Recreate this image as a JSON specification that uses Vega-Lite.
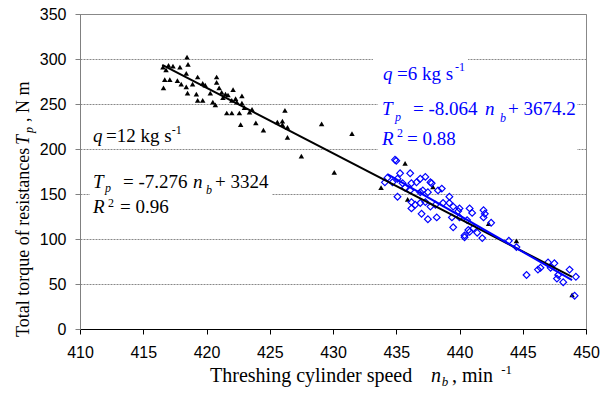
{
  "$schema": "https://vega.github.io/schema/vega-lite/v6.json",
  "width": 506,
  "height": 315,
  "autosize": "none",
  "padding": {"left": 80, "top": 14, "right": 15, "bottom": 65},
  "background": "white",
  "config": {
    "view": {"stroke": "#888888", "strokeWidth": 1},
    "axisX": {"grid": false, "domainColor": "#000000", "tickColor": "#000000", "tickSize": 5, "labelFont": "Liberation Sans", "labelFontSize": 16, "labelColor": "#000000", "labelPadding": 10, "labelFlush": false, "labelOverlap": false, "title": null},
    "axisY": {"grid": true, "gridColor": "#888888", "gridDash": [2, 1], "domainColor": "#808080", "tickColor": "#808080", "tickSize": 5, "labelFont": "Liberation Sans", "labelFontSize": 16, "labelColor": "#000000", "labelPadding": 9, "labelFlush": false, "labelOverlap": false, "title": null}
  },
  "datasets": {
    "boxes": [
      {"n1": 410.79, "n2": 425.18, "T1": 118.9, "T2": 185.6},
      {"n1": 433.56, "n2": 449.29, "T1": 193.3, "T2": 263.3},
      {"n1": 433.16, "n2": 440.67, "T1": 265.6, "T2": 304.4}
    ],
    "tri": [
      {"n": 416.56, "T": 291}, {"n": 416.8, "T": 288}, {"n": 417.0, "T": 293}, {"n": 417.35, "T": 292}, {"n": 417.9, "T": 291},
      {"n": 418.46, "T": 302}, {"n": 418.54, "T": 294}, {"n": 416.7, "T": 277}, {"n": 416.6, "T": 268}, {"n": 417.1, "T": 277},
      {"n": 417.7, "T": 276}, {"n": 418.0, "T": 272}, {"n": 418.4, "T": 269}, {"n": 418.4, "T": 284}, {"n": 418.5, "T": 262},
      {"n": 418.9, "T": 272}, {"n": 419.3, "T": 280}, {"n": 419.2, "T": 261}, {"n": 419.3, "T": 254}, {"n": 419.7, "T": 254},
      {"n": 419.7, "T": 273}, {"n": 419.9, "T": 271}, {"n": 420.3, "T": 262}, {"n": 420.5, "T": 252}, {"n": 420.7, "T": 249},
      {"n": 420.8, "T": 280}, {"n": 420.8, "T": 274}, {"n": 421.0, "T": 268}, {"n": 421.2, "T": 263}, {"n": 421.3, "T": 257},
      {"n": 421.5, "T": 261}, {"n": 421.7, "T": 260}, {"n": 422.1, "T": 266}, {"n": 422.0, "T": 254}, {"n": 422.3, "T": 256},
      {"n": 422.4, "T": 252}, {"n": 422.8, "T": 251}, {"n": 422.8, "T": 259}, {"n": 423.0, "T": 246}, {"n": 423.4, "T": 241},
      {"n": 423.6, "T": 244}, {"n": 421.6, "T": 240}, {"n": 422.0, "T": 240}, {"n": 422.6, "T": 240}, {"n": 422.7, "T": 227},
      {"n": 423.9, "T": 229}, {"n": 424.5, "T": 221}, {"n": 425.6, "T": 230}, {"n": 426.0, "T": 231}, {"n": 426.0, "T": 227},
      {"n": 426.4, "T": 224}, {"n": 426.2, "T": 243}, {"n": 426.4, "T": 213}, {"n": 427.5, "T": 192}, {"n": 429.1, "T": 228},
      {"n": 430.1, "T": 174}, {"n": 431.5, "T": 217}, {"n": 433.8, "T": 157}, {"n": 435.7, "T": 184}, {"n": 435.9, "T": 144},
      {"n": 437.9, "T": 158}, {"n": 442.3, "T": 117}, {"n": 444.5, "T": 98}, {"n": 448.9, "T": 38}
    ],
    "dia": [
      {"n": 435.0, "T": 187}, {"n": 435.3, "T": 173}, {"n": 436.1, "T": 173}, {"n": 434.7, "T": 163}, {"n": 435.1, "T": 167},
      {"n": 435.5, "T": 162}, {"n": 436.2, "T": 162}, {"n": 436.6, "T": 163}, {"n": 436.9, "T": 167}, {"n": 437.3, "T": 169},
      {"n": 437.7, "T": 163}, {"n": 437.8, "T": 162}, {"n": 438.3, "T": 154}, {"n": 438.6, "T": 156}, {"n": 435.7, "T": 157},
      {"n": 436.1, "T": 154}, {"n": 436.9, "T": 152}, {"n": 437.1, "T": 154}, {"n": 437.5, "T": 152}, {"n": 435.1, "T": 147},
      {"n": 436.2, "T": 141}, {"n": 436.5, "T": 138}, {"n": 436.9, "T": 140}, {"n": 437.3, "T": 141}, {"n": 437.7, "T": 136},
      {"n": 438.1, "T": 138}, {"n": 436.2, "T": 134}, {"n": 437.0, "T": 128}, {"n": 437.5, "T": 122}, {"n": 438.2, "T": 124},
      {"n": 439.2, "T": 147}, {"n": 439.2, "T": 140}, {"n": 439.5, "T": 136}, {"n": 440.0, "T": 134}, {"n": 439.4, "T": 124},
      {"n": 439.5, "T": 113}, {"n": 440.0, "T": 124}, {"n": 440.8, "T": 134}, {"n": 441.0, "T": 129}, {"n": 440.6, "T": 121},
      {"n": 440.7, "T": 110}, {"n": 440.4, "T": 102}, {"n": 441.1, "T": 112}, {"n": 441.8, "T": 101}, {"n": 441.9, "T": 132},
      {"n": 442.0, "T": 128}, {"n": 441.4, "T": 107}, {"n": 434.3, "T": 168}, {"n": 434.1, "T": 163}, {"n": 441.9, "T": 124},
      {"n": 442.5, "T": 118}, {"n": 443.9, "T": 98}, {"n": 444.5, "T": 91}, {"n": 445.3, "T": 60}, {"n": 446.2, "T": 66},
      {"n": 446.4, "T": 68}, {"n": 447.0, "T": 74}, {"n": 447.5, "T": 73}, {"n": 447.2, "T": 68}, {"n": 447.8, "T": 60},
      {"n": 447.7, "T": 56}, {"n": 448.2, "T": 52}, {"n": 448.7, "T": 66}, {"n": 449.2, "T": 58}, {"n": 449.1, "T": 37},
      {"n": 438.7, "T": 140}, {"n": 440.4, "T": 104}, {"n": 440.8, "T": 108}, {"n": 434.9, "T": 188}, {"n": 439.9, "T": 131}
    ],
    "fit": [
      {"n": 416.5, "T": 293.5, "q": "12"}, {"n": 448.9, "T": 57.8, "q": "12"},
      {"n": 434.3, "T": 172.0, "q": "6"}, {"n": 448.9, "T": 54.3, "q": "6"}
    ],
    "t_it": [
      {"n": 411.03, "T": 207.8, "s": "q", "q": "12"}, {"n": 411.03, "T": 156.7, "s": "T", "q": "12"},
      {"n": 418.93, "T": 156.7, "s": "n", "q": "12"}, {"n": 411.03, "T": 128.9, "s": "R", "q": "12"},
      {"n": 433.95, "T": 276.7, "s": "q", "q": "6"}, {"n": 433.87, "T": 237.8, "s": "T", "q": "6"},
      {"n": 442.02, "T": 237.8, "s": "n", "q": "6"}, {"n": 433.87, "T": 204.4, "s": "R", "q": "6"}
    ],
    "t_rm": [
      {"n": 412.06, "T": 207.8, "s": "=12 kg s", "q": "12"}, {"n": 413.4, "T": 156.7, "s": "= -7.276", "q": "12"},
      {"n": 420.67, "T": 156.7, "s": "+ 3324", "q": "12"}, {"n": 413.16, "T": 128.9, "s": "= 0.96", "q": "12"},
      {"n": 435.06, "T": 276.7, "s": "=6 kg s", "q": "6"}, {"n": 436.32, "T": 237.8, "s": "= -8.064", "q": "6"},
      {"n": 443.83, "T": 237.8, "s": "+ 3674.2", "q": "6"}, {"n": 435.85, "T": 204.4, "s": "= 0.88", "q": "6"}
    ],
    "t_sub": [
      {"n": 411.98, "T": 152.2, "s": "p", "q": "12"}, {"n": 419.96, "T": 150.0, "s": "b", "q": "12"},
      {"n": 434.9, "T": 231.1, "s": "p", "q": "6"}, {"n": 443.2, "T": 230.0, "s": "b", "q": "6"}
    ],
    "t_sup": [
      {"n": 417.25, "T": 216.7, "s": "-1", "q": "12"}, {"n": 412.21, "T": 135.6, "s": "2", "q": "12"},
      {"n": 439.64, "T": 286.7, "s": "-1", "q": "6"}, {"n": 435.06, "T": 213.3, "s": "2", "q": "6"}
    ],
    "xt_rm": [{"n": 420.28, "T": -58.9, "s": "Threshing cylinder speed"}, {"n": 439.4, "T": -58.9, "s": ", min"}],
    "xt_it": [{"n": 437.75, "T": -58.9, "s": "n"}],
    "xt_sub": [{"n": 438.6, "T": -63.3, "s": "b"}],
    "xt_sup": [{"n": 443.3, "T": -50.0, "s": "-1"}],
    "yt_rm": [{"n": 405.97, "T": -8.9, "s": "Total torque of resistances"}, {"n": 405.97, "T": 230.0, "s": ", N m"}],
    "yt_it": [{"n": 405.97, "T": 204.4, "s": "T"}],
    "yt_sub": [{"n": 406.28, "T": 217.8, "s": "p"}]
  },
  "layer": [
    {
      "data": {"name": "boxes"},
      "mark": {"type": "rect", "fill": "white", "strokeWidth": 0},
      "encoding": {
        "x": {"field": "n1", "type": "quantitative", "scale": {"domain": [410, 450], "nice": false, "zero": false}, "axis": {"values": [410, 415, 420, 425, 430, 435, 440, 445, 450]}, "title": null},
        "x2": {"field": "n2"},
        "y": {"field": "T1", "type": "quantitative", "scale": {"domain": [0, 350], "nice": false, "zero": false}, "axis": {"values": [0, 50, 100, 150, 200, 250, 300, 350]}, "title": null},
        "y2": {"field": "T2"}
      }
    },
    {
      "data": {"name": "tri"},
      "mark": {"type": "point", "shape": "triangle-up", "filled": true, "color": "#000000", "size": 30, "opacity": 1},
      "encoding": {
        "x": {"field": "n", "type": "quantitative", "title": null},
        "y": {"field": "T", "type": "quantitative", "title": null}
      }
    },
    {
      "data": {"name": "dia"},
      "mark": {"type": "point", "shape": "diamond", "filled": false, "color": "#0000ff", "strokeWidth": 1.2, "size": 45, "opacity": 1},
      "encoding": {
        "x": {"field": "n", "type": "quantitative", "title": null},
        "y": {"field": "T", "type": "quantitative", "title": null}
      }
    },
    {
      "data": {"name": "fit"},
      "mark": {"type": "line", "strokeWidth": 2},
      "encoding": {
        "x": {"field": "n", "type": "quantitative", "title": null},
        "y": {"field": "T", "type": "quantitative", "title": null},
        "color": {"field": "q", "type": "nominal", "scale": {"domain": ["12", "6"], "range": ["#000000", "#0000ff"]}, "legend": null}
      }
    },
    {
      "data": {"name": "t_it"},
      "mark": {"type": "text", "font": "Liberation Serif", "fontSize": 19, "fontStyle": "italic", "align": "left", "baseline": "alphabetic"},
      "encoding": {
        "x": {"field": "n", "type": "quantitative", "title": null},
        "y": {"field": "T", "type": "quantitative", "title": null},
        "text": {"field": "s"},
        "color": {"field": "q", "type": "nominal", "legend": null}
      }
    },
    {
      "data": {"name": "t_rm"},
      "mark": {"type": "text", "font": "Liberation Serif", "fontSize": 19, "align": "left", "baseline": "alphabetic"},
      "encoding": {
        "x": {"field": "n", "type": "quantitative", "title": null},
        "y": {"field": "T", "type": "quantitative", "title": null},
        "text": {"field": "s"},
        "color": {"field": "q", "type": "nominal", "legend": null}
      }
    },
    {
      "data": {"name": "t_sub"},
      "mark": {"type": "text", "font": "Liberation Serif", "fontSize": 12, "fontStyle": "italic", "align": "left", "baseline": "alphabetic"},
      "encoding": {
        "x": {"field": "n", "type": "quantitative", "title": null},
        "y": {"field": "T", "type": "quantitative", "title": null},
        "text": {"field": "s"},
        "color": {"field": "q", "type": "nominal", "legend": null}
      }
    },
    {
      "data": {"name": "t_sup"},
      "mark": {"type": "text", "font": "Liberation Serif", "fontSize": 12, "align": "left", "baseline": "alphabetic"},
      "encoding": {
        "x": {"field": "n", "type": "quantitative", "title": null},
        "y": {"field": "T", "type": "quantitative", "title": null},
        "text": {"field": "s"},
        "color": {"field": "q", "type": "nominal", "legend": null}
      }
    },
    {
      "data": {"name": "xt_rm"},
      "mark": {"type": "text", "font": "Liberation Serif", "fontSize": 20, "align": "left", "baseline": "alphabetic", "color": "#000000"},
      "encoding": {"x": {"field": "n", "type": "quantitative", "title": null}, "y": {"field": "T", "type": "quantitative", "title": null}, "text": {"field": "s"}}
    },
    {
      "data": {"name": "xt_it"},
      "mark": {"type": "text", "font": "Liberation Serif", "fontSize": 20, "fontStyle": "italic", "align": "left", "baseline": "alphabetic", "color": "#000000"},
      "encoding": {"x": {"field": "n", "type": "quantitative", "title": null}, "y": {"field": "T", "type": "quantitative", "title": null}, "text": {"field": "s"}}
    },
    {
      "data": {"name": "xt_sub"},
      "mark": {"type": "text", "font": "Liberation Serif", "fontSize": 13, "fontStyle": "italic", "align": "left", "baseline": "alphabetic", "color": "#000000"},
      "encoding": {"x": {"field": "n", "type": "quantitative", "title": null}, "y": {"field": "T", "type": "quantitative", "title": null}, "text": {"field": "s"}}
    },
    {
      "data": {"name": "xt_sup"},
      "mark": {"type": "text", "font": "Liberation Serif", "fontSize": 13, "align": "left", "baseline": "alphabetic", "color": "#000000"},
      "encoding": {"x": {"field": "n", "type": "quantitative", "title": null}, "y": {"field": "T", "type": "quantitative", "title": null}, "text": {"field": "s"}}
    },
    {
      "data": {"name": "yt_rm"},
      "mark": {"type": "text", "font": "Liberation Serif", "fontSize": 18, "angle": 270, "align": "left", "baseline": "alphabetic", "color": "#000000"},
      "encoding": {"x": {"field": "n", "type": "quantitative", "title": null}, "y": {"field": "T", "type": "quantitative", "title": null}, "text": {"field": "s"}}
    },
    {
      "data": {"name": "yt_it"},
      "mark": {"type": "text", "font": "Liberation Serif", "fontSize": 18, "fontStyle": "italic", "angle": 270, "align": "left", "baseline": "alphabetic", "color": "#000000"},
      "encoding": {"x": {"field": "n", "type": "quantitative", "title": null}, "y": {"field": "T", "type": "quantitative", "title": null}, "text": {"field": "s"}}
    },
    {
      "data": {"name": "yt_sub"},
      "mark": {"type": "text", "font": "Liberation Serif", "fontSize": 12, "fontStyle": "italic", "angle": 270, "align": "left", "baseline": "alphabetic", "color": "#000000"},
      "encoding": {"x": {"field": "n", "type": "quantitative", "title": null}, "y": {"field": "T", "type": "quantitative", "title": null}, "text": {"field": "s"}}
    }
  ]
}
